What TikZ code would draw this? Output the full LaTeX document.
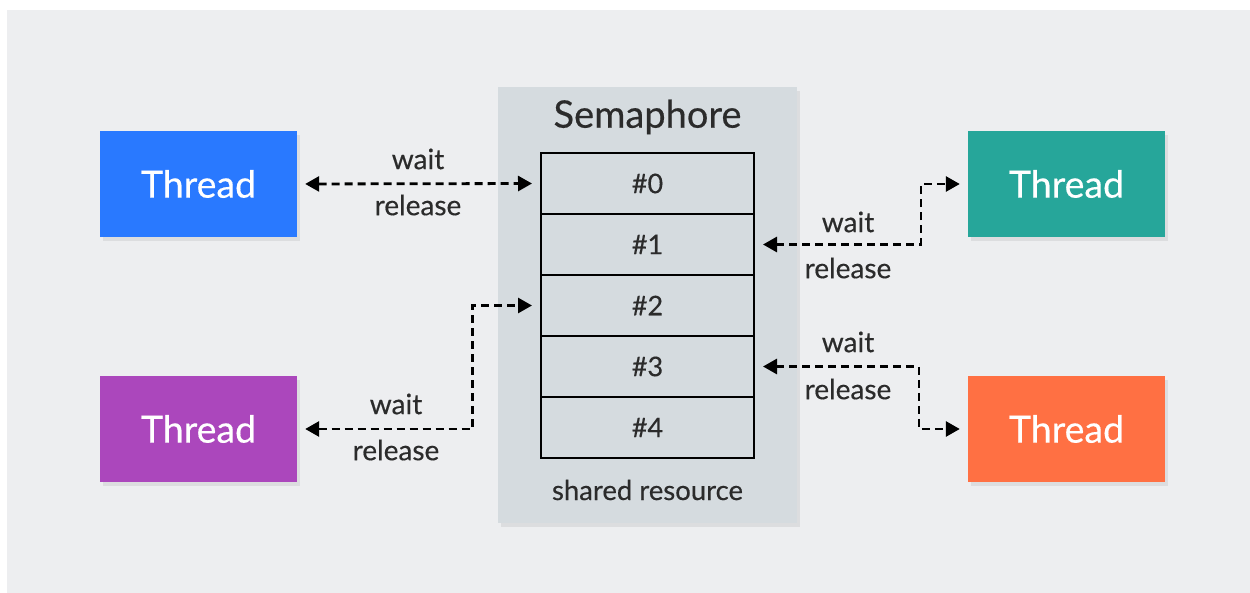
\documentclass[tikz,border=0pt]{standalone}
\usepackage{fontspec}
\setmainfont{Lato}[FakeBold=0.4]
\usetikzlibrary{shadows,arrows.meta}
\definecolor{tblue}{HTML}{2979FF}
\definecolor{tpurple}{HTML}{AB47BC}
\definecolor{tteal}{HTML}{26A69A}
\definecolor{torange}{HTML}{FF7043}
\definecolor{bgc}{HTML}{EDEEF0}
\definecolor{semfill}{HTML}{D5DBDF}
\definecolor{txt}{HTML}{2B2B2B}
\begin{document}
\begin{tikzpicture}[x=1pt,y=-1pt,
 thread/.style={minimum width=197pt, minimum height=106pt, inner sep=0pt, text=white,
   font=\fontsize{37.5}{40}\selectfont,
   drop shadow={opacity=0.15,shadow xshift=3pt,shadow yshift=-4pt}},
 cell/.style={draw=black, line width=2pt, minimum width=213pt, minimum height=61pt,
   inner sep=0pt, text=txt, font=\fontsize{27}{30}\selectfont},
 conn/.style={draw=black, line width=2.8pt, dash pattern=on 8pt off 5pt,
   {Triangle[length=14pt,width=15pt]}-{Triangle[length=14pt,width=15pt]},
   shorten <=8pt, shorten >=8pt},
 lbl/.style={text=txt, font=\fontsize{28}{30}\selectfont, inner sep=0pt}
]
\useasboundingbox (0,0) rectangle (1250,593);
\fill[white] (0,0) rectangle (1250,593);
\fill[bgc] (7,10) rectangle (1250,593);

% semaphore container
\node[fill=semfill, minimum width=299pt, minimum height=436pt, inner sep=0pt,
  drop shadow={opacity=0.15,shadow xshift=3pt,shadow yshift=-4pt}] (sem) at (647.5,305) {};
\node[text=txt, font=\fontsize{38}{40}\selectfont, inner sep=0pt] (title) at (647.5,117) {Semaphore};
\node[cell] (r0) at (647.5,183.5) {\#0};
\node[cell] (r1) at (647.5,244.5) {\#1};
\node[cell] (r2) at (647.5,305.5) {\#2};
\node[cell] (r3) at (647.5,366.5) {\#3};
\node[cell] (r4) at (647.5,427.5) {\#4};
\node[text=txt, font=\fontsize{27.5}{30}\selectfont, inner sep=0pt] (shared) at (647.5,490) {shared resource};

% threads
\node[thread, fill=tblue] (blue) at (198.5,184) {Thread};
\node[thread, fill=tpurple] (purple) at (198.5,429) {Thread};
\node[thread, fill=tteal] (teal) at (1066.5,184) {Thread};
\node[thread, fill=torange] (orange) at (1066.5,429) {Thread};

% connectors
\draw[conn] (blue.east) -- (r0.west);
\draw[conn] (r1.east) -- ++(166,0) |- (teal.west);
\draw[conn] (purple.east) -- ++(175,0) |- (r2.west);
\draw[conn] (r3.east) -- ++(164,0) |- (orange.west);

% labels
\node[lbl] (w0) at (418,159) {wait};
\node[lbl] (l0) at (418,205) {release};
\node[lbl] (w1) at (848,222) {wait};
\node[lbl] (l1) at (848,268) {release};
\node[lbl] (w2) at (396,404) {wait};
\node[lbl] (l2) at (396,450) {release};
\node[lbl] (w3) at (848,342) {wait};
\node[lbl] (l3) at (848,389) {release};
\end{tikzpicture}
\end{document}
